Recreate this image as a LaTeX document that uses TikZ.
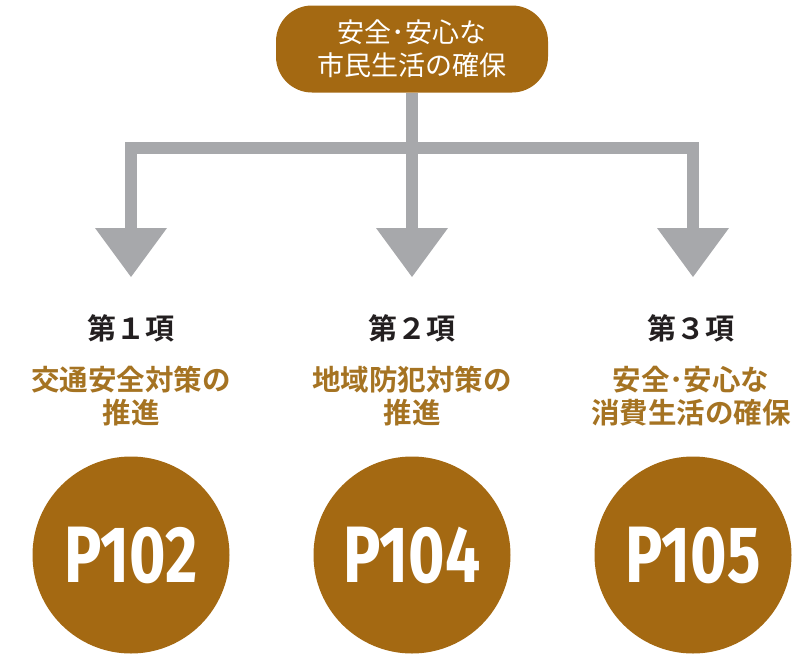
\documentclass[tikz,border=0pt]{standalone}
\usepackage{fontspec}
\newfontfamily\cjk{Noto Sans CJK JP}[BoldFont={Noto Sans CJK JP Bold}]
\newfontfamily\pfont{Fira Sans}[BoldFont={Fira Sans Bold}]
\definecolor{brownfill}{HTML}{A46912}
\definecolor{browntext}{HTML}{A57322}
\definecolor{arrowgray}{HTML}{A7A8AB}
\definecolor{darktext}{HTML}{231F20}
\begin{document}
\begin{tikzpicture}[x=1pt,y=-1pt,
  topbox/.style={fill=brownfill, rounded corners=36pt, minimum width=272pt, minimum height=87pt,
    text=white, align=center, font=\cjk\fontsize{27pt}{33pt}\selectfont, inner sep=0pt},
  conn/.style={draw=arrowgray, line width=12pt},
  headtri/.style={fill=arrowgray},
  itemhead/.style={text=darktext, font=\cjk\bfseries\fontsize{29pt}{30pt}\selectfont, inner sep=0pt},
  subtext/.style={text=browntext, align=center, font=\cjk\bfseries\fontsize{28.5pt}{32.5pt}\selectfont, inner sep=0pt},
  pcirc/.style={circle, fill=brownfill, minimum size=197pt, inner sep=0pt, text=white,
    font=\pfont\bfseries\fontsize{80pt}{80pt}\selectfont}
]
\useasboundingbox (0,0) rectangle (798,654);
\node[topbox] (top) at (412,49) {安全･安心な\\市民生活の確保};

\coordinate (c1) at (131,147.5);
\coordinate (c2) at (412,147.5);
\coordinate (c3) at (693,147.5);
\coordinate (h1) at (131,229);
\coordinate (h2) at (412,229);
\coordinate (h3) at (693,229);

\draw[conn] (h1) -- (c1) -- (c3) -- (h3);
\draw[conn] (top.south) -- (h2);
\foreach \h in {h1,h2,h3}{
  \fill[headtri] (\h) ++(-36,-1) -- ++(72,0) -- ++(-36,49) -- cycle;
}

\node[itemhead] (i1) at (131,328) {第１項};
\node[itemhead] (i2) at (412,328) {第２項};
\node[itemhead] (i3) at (691,328) {第３項};

\node[subtext] (s1) at (131,396) {交通安全対策の\\推進};
\node[subtext] (s2) at (412,396) {地域防犯対策の\\推進};
\node[subtext] (s3) at (691,396) {安全･安心な\\消費生活の確保};

\node[pcirc] (p1) at (131,555) {\scalebox{0.78}[1]{P102}};
\node[pcirc] (p2) at (412,555) {\scalebox{0.78}[1]{P104}};
\node[pcirc] (p3) at (693,555) {\scalebox{0.78}[1]{P105}};
\end{tikzpicture}
\end{document}
